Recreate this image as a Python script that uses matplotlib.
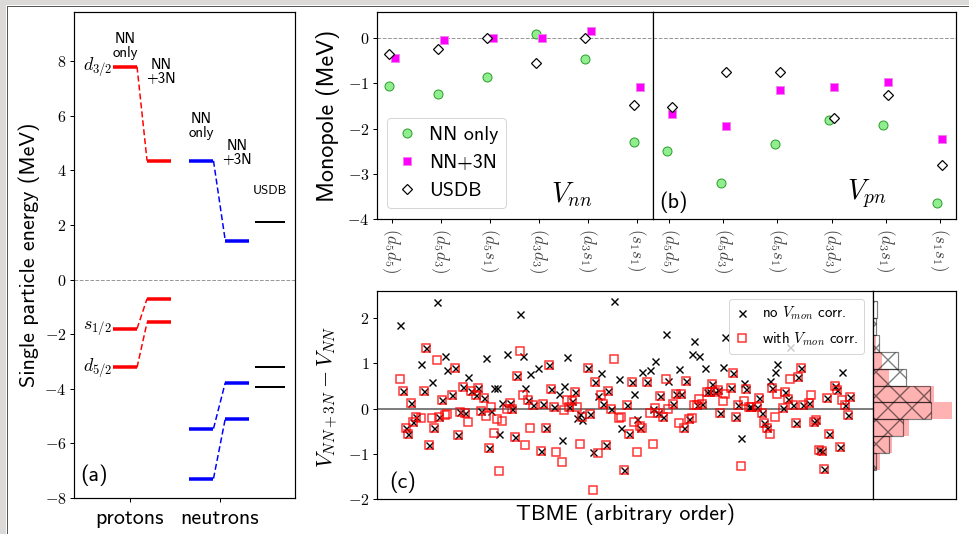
import numpy as np
import matplotlib
matplotlib.use("Agg")
import matplotlib.pyplot as plt
from matplotlib.patches import Rectangle
from matplotlib.lines import Line2D

plt.rcParams["font.family"] = ["cmss10", "DejaVu Sans"]
plt.rcParams["mathtext.fontset"] = "cm"
plt.rcParams["axes.unicode_minus"] = False
plt.rcParams["hatch.linewidth"] = 1.4

# ---- (a) single particle energies (MeV), order: d3/2, s1/2, d5/2
orbitals = [r"$d_{3/2}$", r"$s_{1/2}$", r"$d_{5/2}$"]
proton_nn = [7.80, -1.80, -3.22]
proton_3n = [4.35, -0.70, -1.57]
neutron_nn = [4.35, -5.46, -7.29]
neutron_3n = [1.42, -3.77, -5.09]
usdb_spe = [2.11, -3.21, -3.93]

# ---- (b) monopoles (MeV)
pair_labels = [r"$(d_5d_5)$", r"$(d_5d_3)$", r"$(d_5s_1)$",
               r"$(d_3d_3)$", r"$(d_3s_1)$", r"$(s_1s_1)$"]
vnn_nn = [-1.05, -1.24, -0.86, 0.09, -0.46, -2.29]
vnn_3n = [-0.44, -0.05, 0.00, 0.00, 0.17, -1.09]
vnn_usdb = [-0.35, -0.24, 0.00, -0.55, 0.00, -1.48]
vpn_nn = [-2.49, -3.20, -2.33, -1.81, -1.93, -3.65]
vpn_3n = [-1.68, -1.94, -1.14, -1.09, -0.97, -2.23]
vpn_usdb = [-1.53, -0.74, -0.74, -1.76, -1.25, -2.80]

# ---- (c) V_NN+3N - V_NN per TBME
# TBMEs not touched by the monopole correction (same value in both)
same_idx = [10, 11, 12, 13, 14, 15, 18, 19, 20, 22, 24, 25, 29, 30, 31, 32, 33, 34,
            36, 38, 39, 40, 41, 43, 51, 52, 53, 54, 58, 60, 63, 64, 65, 66, 67, 68,
            74, 75, 76, 81, 82, 84, 87, 88, 89, 90, 95, 96, 97, 98, 104, 108, 109,
            110, 114, 115, 117, 118, 119, 120, 123, 125, 127, 128, 129, 130, 131,
            132, 136, 137, 138, 139, 142, 143, 144, 146, 147, 148, 149, 150, 152,
            156, 157, 158, 160, 161, 162, 163, 164, 166, 168, 169, 170, 171, 172,
            173, 174, 176, 177, 178, 180, 181, 182]
same_val = [0.38, -0.42, -0.56, 0.13, -0.29, -0.18, 0.38, 1.33, -0.81, -0.44, -0.18,
            0.18, 0.29, 0.90, -0.59, -0.08, 0.47, -0.09, 0.38, 0.29, 0.45, -0.05,
            0.23, -0.88, 0.12, -0.01, -0.62, 0.71, 0.18, 0.08, -0.93, 0.10, -0.44,
            0.96, 0.43, 0.04, 0.04, 0.16, 0.36, 0.89, -0.13, 0.58, 0.10, -0.81,
            0.38, -0.01, -1.36, 0.07, -0.56, 0.58, 0.58, -0.10, 0.28, -0.18, 0.10,
            0.32, 0.32, -0.42, 0.60, -0.24, 0.07, 0.10, 0.36, 0.36, 0.55, 0.36,
            0.41, -0.10, 0.45, 0.79, -0.18, 0.08, 0.43, 0.04, 0.04, 0.03, 0.24,
            -0.10, -0.33, -0.42, 0.45, 0.01, 0.36, 0.21, 0.08, -0.31, 0.69, 0.90,
            0.07, 0.12, -0.29, -0.25, -0.92, -0.94, -1.33, 0.23, -0.57, 0.50, 0.41,
            -0.84, 0.08, -0.14, 0.25]
# changed TBMEs, without correction
nocorr_idx = [9, 17, 21, 23, 26, 27, 35, 42, 44, 45, 46, 47, 48, 50, 55, 56, 57, 59,
              62, 70, 71, 72, 73, 77, 78, 79, 83, 85, 86, 91, 93, 94, 99, 100, 101,
              102, 105, 106, 107, 111, 112, 116, 121, 122, 124, 126, 133, 134, 140,
              141, 151, 153, 154, 159, 179]
nocorr_val = [1.84, 0.99, 0.59, 2.36, 1.17, 0.86, 0.70, 1.12, -0.05, 0.45, 0.45,
              -0.56, 0.13, 1.21, 2.10, 1.16, 0.45, 0.76, 0.90, 0.32, -0.70, 0.49,
              1.13, -0.20, -0.13, -0.25, -0.97, 0.27, 0.79, 2.38, 0.66, -0.42, 0.32,
              -0.24, -0.42, 0.81, 0.86, 0.00, 1.06, 1.64, 0.61, 0.88, 1.21, 1.50,
              1.16, 0.90, 0.92, 1.58, -0.66, 0.56, 0.62, 0.80, 0.99, 1.36, 0.81]
# changed TBMEs, with correction
corr_idx = [9, 17, 21, 23, 26, 27, 35, 42, 44, 45, 46, 47, 48, 50, 55, 56, 57, 59,
            69, 71, 72, 73, 77, 78, 79, 83, 85, 86, 91, 93, 94, 99, 100, 101, 102,
            105, 106, 107, 111, 112, 116, 121, 122, 124, 133, 134, 140, 141, 151,
            153, 154, 159, 167, 179]
corr_val = [0.66, -0.20, -0.21, 1.08, -0.14, -0.11, -0.30, -0.16, 0.04, -0.53, -0.23,
            -1.38, -0.27, 0.00, 1.28, 0.30, -0.80, -0.44, -0.97, -1.19, -0.03, 0.18,
            0.04, -0.79, -0.18, -1.79, -0.99, 0.30, 1.10, -0.20, -0.18, -0.30, -0.97,
            -0.38, -0.44, -0.10, -0.79, 0.02, 0.66, 0.00, -0.31, -0.20, 0.07, 0.21,
            0.17, 0.32, -1.27, 0.17, -0.57, -0.19, 0.32, 0.65, 0.30, 0.18]

W, H = 969, 534
fig = plt.figure(figsize=(W / 72, H / 72), dpi=72)


def px_axes(l, t, r, b, **kw):
    return fig.add_axes([l / W, 1 - b / H, (r - l) / W, (b - t) / H], **kw)


def math_ticks(ax, vals):
    ax.set_yticks(vals)
    ax.set_yticklabels([r"$%d$" % v for v in vals], fontsize=16)


# screenshot frame
fig.add_artist(Rectangle((0, 1 - 5 / H), 1, 5 / H, transform=fig.transFigure,
                         color="#dcd9d9", lw=0))
fig.add_artist(Rectangle((0, 0), 6 / W, 1, transform=fig.transFigure,
                         color="#dcd9d9", lw=0))
fig.add_artist(Line2D([6.5 / W, 6.5 / W], [0, 1 - 5.5 / H], color="#555555", lw=1))
fig.add_artist(Line2D([6.5 / W, 1], [1 - 5.5 / H, 1 - 5.5 / H], color="#555555", lw=1))

# ================= (a)
axa = px_axes(74, 12, 295, 498)
x_pnn, x_p3n, x_nnn, x_n3n, x_usdb = 1.0, 1.78, 2.75, 3.57, 4.32
hw = 0.275
axa.axhline(0, color="#999999", lw=1, ls="--", zorder=0)
for lo, hi, x0, x1, col in [(proton_nn, proton_3n, x_pnn, x_p3n, "red"),
                            (neutron_nn, neutron_3n, x_nnn, x_n3n, "blue")]:
    axa.hlines(lo, x0 - hw, x0 + hw, color=col, lw=3.5)
    axa.hlines(hi, x1 - hw, x1 + hw, color=col, lw=3.5)
    for e0, e1 in zip(lo, hi):
        axa.plot([x0 + hw, x1 - hw], [e0, e1], color=col, lw=1.5, ls=(0, (4, 2)))
axa.hlines(usdb_spe, x_usdb - 0.34, x_usdb + 0.34, color="k", lw=2)
for e, lab in zip(proton_nn, orbitals):
    axa.text(x_pnn - hw - 0.02, e, lab, ha="right", va="center", fontsize=18)
axa.text(x_pnn, 8.05, "NN\nonly", ha="center", va="bottom", fontsize=15, linespacing=1.0)
axa.text(x_p3n + 0.05, 7.62, "NN\n+3N", ha="center", va="center", fontsize=15, linespacing=1.0)
axa.text(x_nnn, 5.62, "NN\nonly", ha="center", va="center", fontsize=15, linespacing=1.0)
axa.text(x_n3n, 4.65, "NN\n+3N", ha="center", va="center", fontsize=15, linespacing=1.0)
axa.text(x_usdb, 3.24, "USDB", ha="center", va="center", fontsize=13)
axa.text(0.03, 0.025, "(a)", transform=axa.transAxes, fontsize=22, va="bottom")
axa.set_xlim(-0.167, 4.89)
axa.set_ylim(-8, 9.8)
math_ticks(axa, list(range(-8, 9, 2)))
axa.set_xticks([1.11, 3.17])
axa.set_xticklabels(["protons", "neutrons"], fontsize=22)
axa.tick_params(axis="x", length=0, pad=7)
axa.set_ylabel("Single particle energy (MeV)", fontsize=22)
axa.yaxis.set_label_coords(-0.154, 0.5)

# ================= (b)
axb1 = px_axes(377, 12, 653, 219)
axb2 = px_axes(653, 12, 956, 219, sharey=axb1)
xb = np.arange(len(pair_labels))
mk_nn = dict(marker="o", ms=9, mfc="#90ee90", mec="#2ca02c", mew=1.0, ls="none")
mk_3n = dict(marker="s", ms=8, mfc="#ff00ff", mec="#ee82ee", mew=1.0, ls="none")
mk_us = dict(marker="D", ms=7, mfc="white", mec="k", mew=1.2, ls="none")
for ax, nn, tn, us, d_us, dx in [(axb1, vnn_nn, vnn_3n, vnn_usdb, -1, 0.06),
                                  (axb2, vpn_nn, vpn_3n, vpn_usdb, 1, 0.05)]:
    ax.axhline(0, color="#999999", lw=1, ls="--", zorder=0)
    ax.plot(xb - dx, nn, label="NN only", **mk_nn)
    ax.plot(xb + dx, tn, label="NN+3N", **mk_3n)
    ax.plot(xb + d_us * dx, us, label="USDB", **mk_us)
    ax.set_xticks(xb)
    ax.set_xticklabels(pair_labels, rotation=270, fontsize=17, color="#444444")
    ax.tick_params(axis="x", length=4, pad=5)
axb1.set_xlim(-0.3, 5.33)
axb2.set_xlim(-0.3, 5.3)
axb1.set_ylim(-4, 0.58)
math_ticks(axb1, [-4, -3, -2, -1, 0])
axb2.tick_params(axis="y", left=False, labelleft=False)
axb1.set_ylabel("Monopole (MeV)", fontsize=24)
axb1.yaxis.set_label_coords(-0.134, 0.5)
axb1.legend(loc="lower left", bbox_to_anchor=(0.035, 0.055), borderaxespad=0,
            fontsize=20, handlelength=1.2, handletextpad=0.5, borderpad=0.4)
axb1.text(0.63, 0.05, r"$V_{nn}$", transform=axb1.transAxes, fontsize=28, va="bottom")
axb2.text(0.64, 0.045, r"$V_{pn}$", transform=axb2.transAxes, fontsize=28, va="bottom")
axb2.text(0.02, 0.03, "(b)", transform=axb2.transAxes, fontsize=22, va="bottom")

# ================= (c)
axc = px_axes(377, 291, 873, 499)
axh = px_axes(873, 291, 956, 499, sharey=axc)
x_nocorr = np.array(same_idx + nocorr_idx)
y_nocorr = np.array(same_val + nocorr_val)
x_corr = np.array(same_idx + corr_idx)
y_corr = np.array(same_val + corr_val)
axc.axhline(0, color="#555555", lw=1.5, zorder=0)
axc.plot(x_corr, y_corr, ls="none", marker="s", ms=8.5, mfc="none", mec="red",
         mew=1.5, alpha=0.8, label=r"with $V_{mon}$ corr.", zorder=2)
axc.plot(x_nocorr, y_nocorr, ls="none", marker="x", ms=7, color="k", mew=1.4,
         label=r"no $V_{mon}$ corr.", zorder=1)
handles, labels = axc.get_legend_handles_labels()
axc.legend(handles[::-1], labels[::-1], loc="upper right", bbox_to_anchor=(0.982, 0.962),
           borderaxespad=0, fontsize=15, handlelength=1.0, handletextpad=0.8)
axc.set_xlim(0, 190.8)
axc.set_ylim(-2, 2.6)
axc.set_xticks([])
math_ticks(axc, [-2, -1, 0, 1, 2])
axc.set_xlabel("TBME (arbitrary order)", fontsize=22)
axc.xaxis.set_label_coords(0.5, -0.02)
axc.set_ylabel(r"$V_{NN+3N} - V_{NN}$", fontsize=22)
axc.yaxis.set_label_coords(-0.075, 0.49)
axc.text(0.024, 0.03, "(c)", transform=axc.transAxes, fontsize=22, va="bottom")

edges = np.histogram_bin_edges(y_nocorr, bins=10)
cnt_red, _, _ = axh.hist(y_corr, bins=edges, orientation="horizontal", color="red",
                         alpha=0.3)
axh.hist(y_nocorr, bins=edges, orientation="horizontal", fill=False, hatch="x",
         edgecolor=(0, 0, 0, 0.5), lw=1.2)
axh.set_xlim(0, cnt_red.max() * 1.045)
axh.tick_params(left=False, labelleft=False, bottom=False, labelbottom=False)

for ax in [axa, axb1, axb2, axc, axh]:
    for s in ax.spines.values():
        s.set_linewidth(1.2)
    ax.tick_params(width=1.0, length=4)

fig.savefig("out.png", dpi=72)
